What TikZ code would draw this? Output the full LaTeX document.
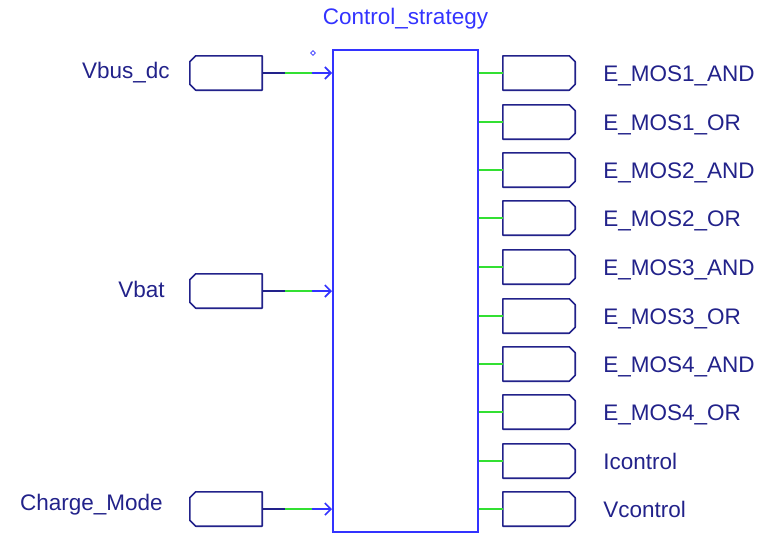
\documentclass[tikz,border=0pt]{standalone}
\usepackage{fontspec}
\setmainfont{Liberation Sans}
\usetikzlibrary{positioning,arrows.meta,shapes.geometric}
\definecolor{portblue}{HTML}{22228A}
\definecolor{blockblue}{HTML}{3333FF}
\definecolor{wiregreen}{HTML}{33E033}

\begin{document}
\begin{tikzpicture}[y=-1pt, x=1pt,font=\fontsize{22.5}{26}\selectfont,
  port/.style={inner sep=0pt,minimum width=72pt,minimum height=34pt},
  portline/.style={draw=portblue,line width=1.6pt,line join=round},
  block/.style={draw=blockblue,line width=2pt,minimum width=145pt,minimum height=482pt,inner sep=0pt},
  lbl/.style={text=portblue,inner sep=0pt},
  navywire/.style={draw=portblue,line width=1.6pt},
  greenwire/.style={draw=wiregreen,line width=1.6pt},
  bluewire/.style={draw=blockblue,line width=1.6pt,-{Straight Barb[length=6pt,width=12pt]}}]
\useasboundingbox (0,0) rectangle (762,533);

\node [block] (ctrl) at (405.5,291) {};
\node [text=blockblue,inner sep=0pt,above=20pt of ctrl] (title) {Control\_strategy};
\node [draw=blockblue,diamond,line width=0.8pt,inner sep=0pt,minimum size=5pt] (dot) at (313,53) {};

% inputs
\node [port] (vbus) at (226,73) {};
\node [port] (vbat) at (226,291) {};
\node [port] (mode) at (226,509) {};

\foreach \p in {vbus,vbat,mode}
  \draw[portline] ([xshift=6pt]\p.north west) -- (\p.north east) -- (\p.south east)
    -- ([xshift=6pt]\p.south west) -- ([yshift=6pt]\p.south west) -- ([yshift=-6pt]\p.north west) -- cycle;

\draw[navywire] (vbus.east) -- ++(23,0);
\draw[greenwire] (vbus.east) ++(23,0) -- ++(27,0);
\draw[bluewire] (vbus.east) ++(50,0) -- (vbus.east -| ctrl.west);
\draw[navywire] (vbat.east) -- ++(23,0);
\draw[greenwire] (vbat.east) ++(23,0) -- ++(27,0);
\draw[bluewire] (vbat.east) ++(50,0) -- (vbat.east -| ctrl.west);
\draw[navywire] (mode.east) -- ++(23,0);
\draw[greenwire] (mode.east) ++(23,0) -- ++(27,0);
\draw[bluewire] (mode.east) ++(50,0) -- (mode.east -| ctrl.west);

\node [lbl,anchor=base east] (vbuslbl) at ([xshift=-20pt,yshift=-5pt]vbus.west) {Vbus\_dc};
\node [lbl,anchor=base east] (vbatlbl) at ([xshift=-25pt,yshift=-6pt]vbat.west) {Vbat};
\node [lbl,anchor=base east] (modelbl) at ([xshift=-27pt,yshift=-1pt]mode.west) {Charge\_Mode};

% outputs
\node [port] (o1) at (539,73) {};
\node [port] (o2) at (539,122) {};
\node [port] (o3) at (539,170) {};
\node [port] (o4) at (539,218) {};
\node [port] (o5) at (539,267) {};
\node [port] (o6) at (539,316) {};
\node [port] (o7) at (539,364) {};
\node [port] (o8) at (539,412) {};
\node [port] (o9) at (539,461) {};
\node [port] (o10) at (539,509) {};

\foreach \p in {o1,o2,o3,o4,o5,o6,o7,o8,o9,o10}
  \draw[portline] (\p.north west) -- ([xshift=-6pt]\p.north east) -- ([yshift=-6pt]\p.north east)
    -- ([yshift=6pt]\p.south east) -- ([xshift=-6pt]\p.south east) -- (\p.south west) -- cycle;

\draw[greenwire] (ctrl.east |- o1) -- (o1.west);
\draw[greenwire] (ctrl.east |- o2) -- (o2.west);
\draw[greenwire] (ctrl.east |- o3) -- (o3.west);
\draw[greenwire] (ctrl.east |- o4) -- (o4.west);
\draw[greenwire] (ctrl.east |- o5) -- (o5.west);
\draw[greenwire] (ctrl.east |- o6) -- (o6.west);
\draw[greenwire] (ctrl.east |- o7) -- (o7.west);
\draw[greenwire] (ctrl.east |- o8) -- (o8.west);
\draw[greenwire] (ctrl.east |- o9) -- (o9.west);
\draw[greenwire] (ctrl.east |- o10) -- (o10.west);

\node [lbl,anchor=base west] (o1lbl) at ([xshift=28pt,yshift=-8pt]o1.east) {E\_MOS1\_AND};
\node [lbl,anchor=base west] (o2lbl) at ([xshift=28pt,yshift=-8pt]o2.east) {E\_MOS1\_OR};
\node [lbl,anchor=base west] (o3lbl) at ([xshift=28pt,yshift=-8pt]o3.east) {E\_MOS2\_AND};
\node [lbl,anchor=base west] (o4lbl) at ([xshift=28pt,yshift=-8pt]o4.east) {E\_MOS2\_OR};
\node [lbl,anchor=base west] (o5lbl) at ([xshift=28pt,yshift=-8pt]o5.east) {E\_MOS3\_AND};
\node [lbl,anchor=base west] (o6lbl) at ([xshift=28pt,yshift=-8pt]o6.east) {E\_MOS3\_OR};
\node [lbl,anchor=base west] (o7lbl) at ([xshift=28pt,yshift=-8pt]o7.east) {E\_MOS4\_AND};
\node [lbl,anchor=base west] (o8lbl) at ([xshift=28pt,yshift=-8pt]o8.east) {E\_MOS4\_OR};
\node [lbl,anchor=base west] (o9lbl) at ([xshift=28pt,yshift=-8pt]o9.east) {Icontrol};
\node [lbl,anchor=base west] (o10lbl) at ([xshift=28pt,yshift=-8pt]o10.east) {Vcontrol};
\end{tikzpicture}
\end{document}
